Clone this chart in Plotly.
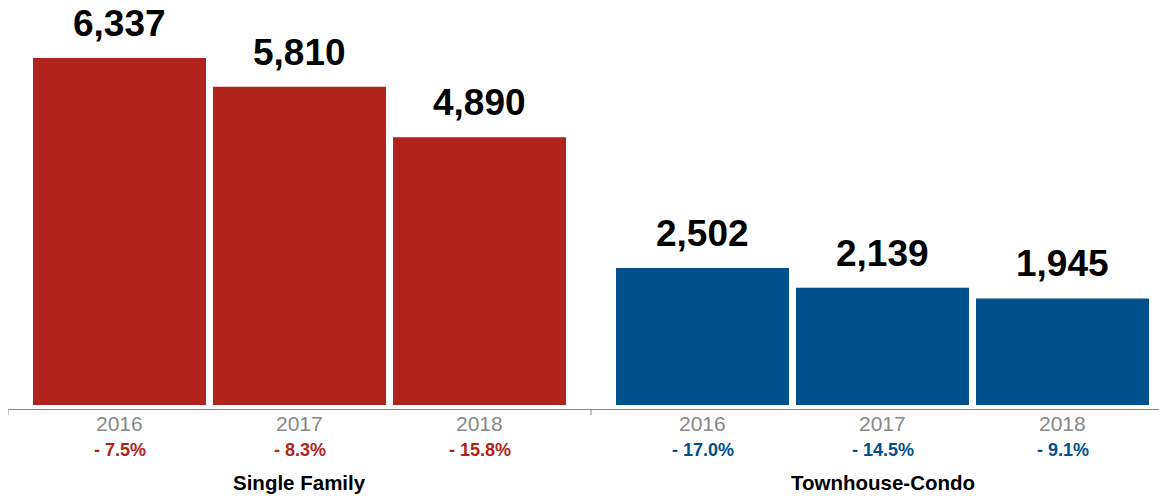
import plotly.graph_objects as go

groups = ["Single Family", "Townhouse-Condo"]
years = ["2016", "2017", "2018"]
values = {
    "Single Family": [6337, 5810, 4890],
    "Townhouse-Condo": [2502, 2139, 1945],
}
changes = {
    "Single Family": ["- 7.5%", "- 8.3%", "- 15.8%"],
    "Townhouse-Condo": ["- 17.0%", "- 14.5%", "- 9.1%"],
}
colors = {"Single Family": "#B0231A", "Townhouse-Condo": "#00508C"}

W, H = 1159, 496
ML, MB = 8, 87
PLOT_H = H - MB  # 409
PITCH = 180.0
BAR_W = 173 / PITCH
GROUP_STEP = 3 + (223 - 180) / PITCH
X0 = (119.5 - ML) / PITCH
Y_MAX = 7396
Y_MIN = -73

def ypaper(px):
    return (PLOT_H - px) / PLOT_H

FONT = "Liberation Sans, Arial, Helvetica, sans-serif"

fig = go.Figure()
annotations = []
for g, grp in enumerate(groups):
    xs = [X0 + g * GROUP_STEP + i for i in range(len(years))]
    fig.add_trace(go.Bar(
        x=xs, y=values[grp], width=BAR_W,
        marker=dict(color=colors[grp], line=dict(width=0)),
        showlegend=False, hoverinfo="skip",
    ))
    for i, x in enumerate(xs):
        annotations.append(dict(
            x=x, y=values[grp][i], xref="x", yref="y",
            text=f"{values[grp][i]:,}", showarrow=False,
            yanchor="bottom", yshift=12,
            font=dict(family=FONT, size=37, color="#000000", weight="bold"),
        ))
        annotations.append(dict(
            x=x, y=ypaper(423), xref="x", yref="paper",
            text=years[i], showarrow=False, yanchor="middle",
            font=dict(family=FONT, size=21, color="#888888"),
        ))
        annotations.append(dict(
            x=x, y=ypaper(450), xref="x", yref="paper",
            text=changes[grp][i], showarrow=False, yanchor="middle",
            font=dict(family=FONT, size=18, color=colors[grp], weight="bold"),
        ))
    annotations.append(dict(
        x=xs[1], y=ypaper(482), xref="x", yref="paper",
        text=grp, showarrow=False, yanchor="middle",
        font=dict(family=FONT, size=20.5, color="#000000", weight="bold"),
    ))

divider = X0 + 2 + BAR_W / 2 + (GROUP_STEP - 2 - BAR_W) / 2
shapes = []
for tx in [0, divider]:
    shapes.append(dict(type="line", xref="x", yref="paper",
                       x0=tx, x1=tx, y0=0, y1=-6 / PLOT_H,
                       line=dict(color="#888888", width=1)))

fig.update_layout(
    width=W, height=H,
    margin=dict(l=ML, r=0, t=0, b=MB),
    paper_bgcolor="white", plot_bgcolor="white",
    barmode="overlay",
    xaxis=dict(range=[0, (W - ML) / PITCH], showgrid=False, zeroline=False,
               showticklabels=False, ticks="", showline=True,
               linecolor="#888888", linewidth=1, fixedrange=True),
    yaxis=dict(range=[Y_MIN, Y_MAX], visible=False, fixedrange=True),
    annotations=annotations,
    shapes=shapes,
)

fig.write_html("out.html", config={"displayModeBar": False},
               post_script="document.body.style.margin='0';")
